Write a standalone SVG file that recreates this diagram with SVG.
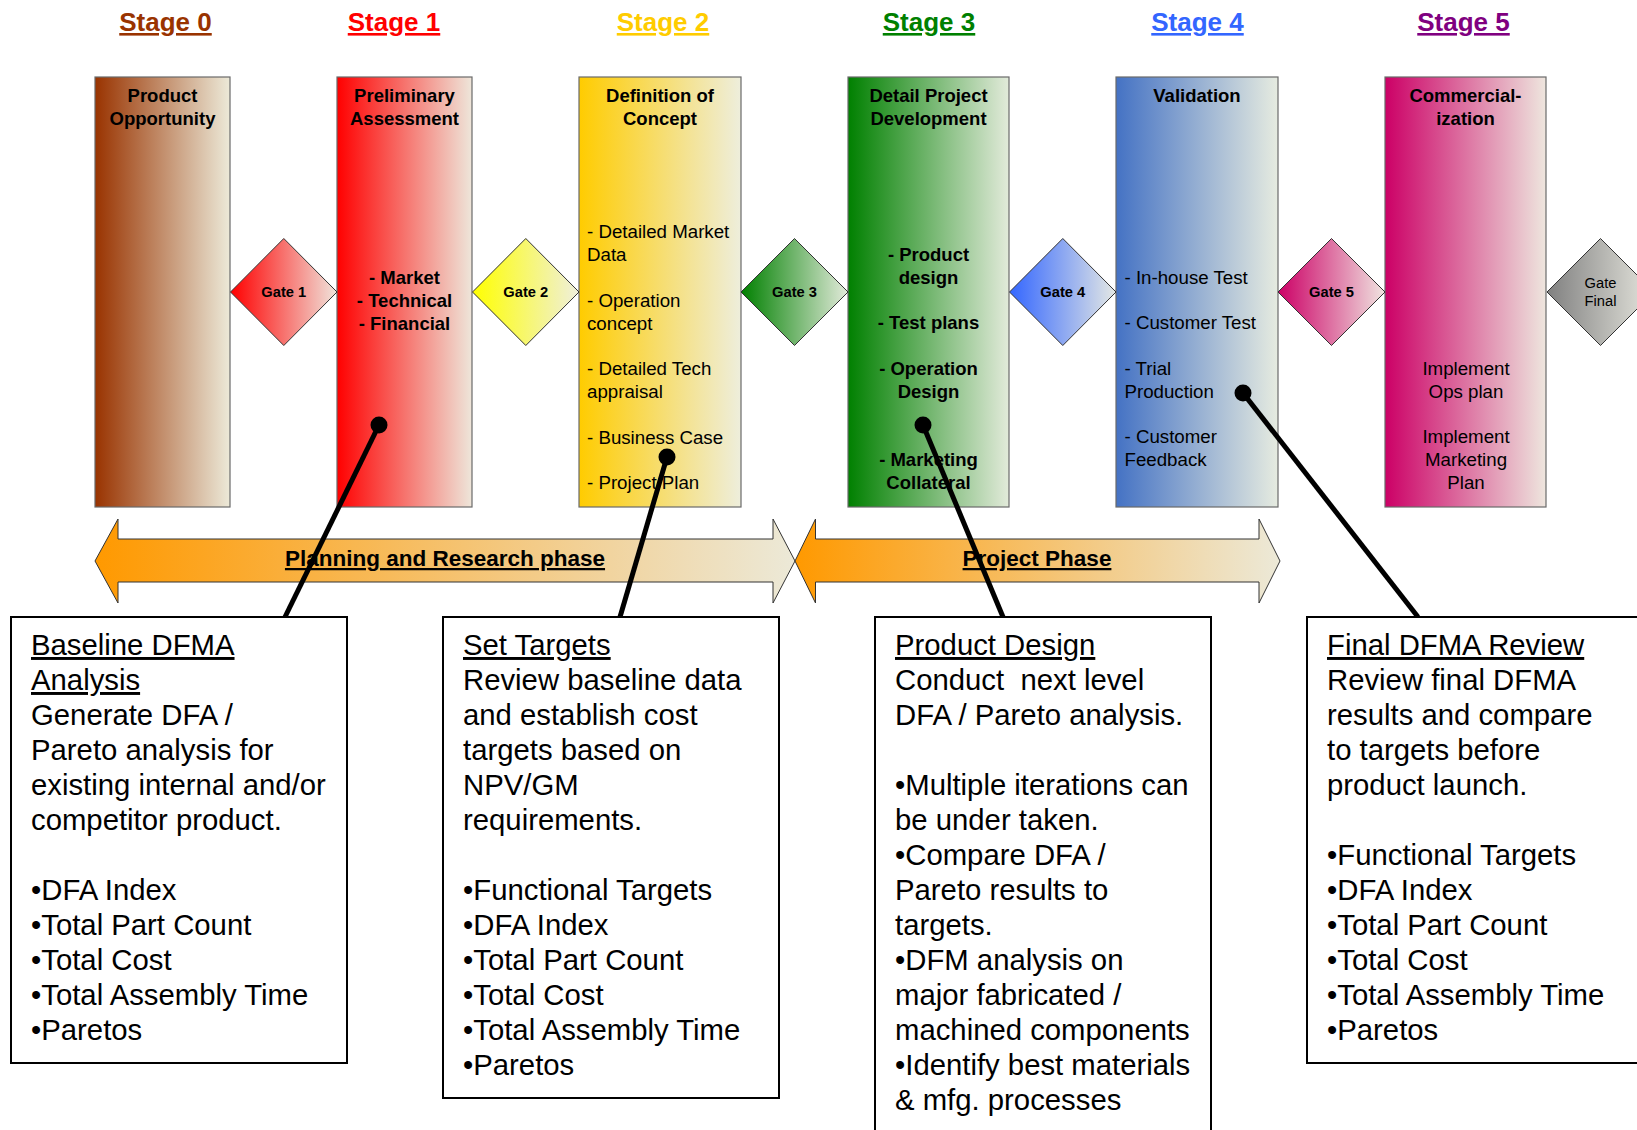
<svg xmlns="http://www.w3.org/2000/svg" width="1637" height="1130" viewBox="0 0 1637 1130">
<defs>
<linearGradient id="g0" x1="0" y1="0" x2="1" y2="0"><stop offset="0" stop-color="#993300"/><stop offset="1" stop-color="#ECE9D8"/></linearGradient>
<linearGradient id="g1" x1="0" y1="0" x2="1" y2="0"><stop offset="0" stop-color="#FF0000"/><stop offset="1" stop-color="#EEE6DA"/></linearGradient>
<linearGradient id="g2" x1="0" y1="0" x2="1" y2="0"><stop offset="0" stop-color="#FFCC00"/><stop offset="1" stop-color="#EEEEDC"/></linearGradient>
<linearGradient id="g3" x1="0" y1="0" x2="1" y2="0"><stop offset="0" stop-color="#008000"/><stop offset="1" stop-color="#E2EADA"/></linearGradient>
<linearGradient id="g4" x1="0" y1="0" x2="1" y2="0"><stop offset="0" stop-color="#4472C4"/><stop offset="1" stop-color="#E6EBE0"/></linearGradient>
<linearGradient id="g5" x1="0" y1="0" x2="1" y2="0"><stop offset="0" stop-color="#CC0066"/><stop offset="1" stop-color="#EEE6DE"/></linearGradient>
<linearGradient id="gg1" x1="0" y1="0" x2="1" y2="0"><stop offset="0" stop-color="#FF0000"/><stop offset="1" stop-color="#F0E4DC"/></linearGradient>
<linearGradient id="gg2" x1="0" y1="0" x2="1" y2="0"><stop offset="0" stop-color="#FFFF00"/><stop offset="1" stop-color="#EFEFDC"/></linearGradient>
<linearGradient id="gg3" x1="0" y1="0" x2="1" y2="0"><stop offset="0" stop-color="#008000"/><stop offset="1" stop-color="#E2EADA"/></linearGradient>
<linearGradient id="gg4" x1="0" y1="0" x2="1" y2="0"><stop offset="0" stop-color="#3366FF"/><stop offset="1" stop-color="#E4E8E4"/></linearGradient>
<linearGradient id="gg5" x1="0" y1="0" x2="1" y2="0"><stop offset="0" stop-color="#CC0066"/><stop offset="1" stop-color="#F0E4E0"/></linearGradient>
<linearGradient id="ggf" x1="0" y1="0" x2="1" y2="0"><stop offset="0" stop-color="#808080"/><stop offset="1" stop-color="#E6E6DE"/></linearGradient>
<linearGradient id="gp" x1="0" y1="0" x2="1" y2="0"><stop offset="0" stop-color="#FF9900"/><stop offset="1" stop-color="#ECE9D8"/></linearGradient>
<style>
text{font-family:"Liberation Sans",Arial,sans-serif;fill:#000}
.st{font-size:26px;font-weight:bold;text-anchor:middle;text-decoration:underline}
.bx{stroke:#6a6a6a;stroke-width:1.2}
.gt{stroke:#333;stroke-width:1}
.tt{font-size:18.5px;font-weight:bold;text-anchor:middle}
.bb{font-size:18.5px;font-weight:bold;text-anchor:middle}
.br{font-size:18.7px}
.bc{font-size:18.7px;text-anchor:middle}
.gl{font-size:14.7px;font-weight:bold;text-anchor:middle}
.gf{font-size:14.7px;text-anchor:middle}
.ph{stroke:#333;stroke-width:1}
.pl{font-size:22.5px;font-weight:bold;text-anchor:middle;text-decoration:underline}
.cn{stroke:#000;stroke-width:5;fill:none}
.dot{fill:#000}
.nb{fill:#fff;stroke:#000;stroke-width:2}
.nt{font-size:29.3px}
.u{text-decoration:underline}
</style>
</defs>

<g id="stage-titles">
<text class="st" x="165.5" y="31" style="fill:#993300">Stage 0</text>
<text class="st" x="394" y="31" style="fill:#FF0000">Stage 1</text>
<text class="st" x="663" y="31" style="fill:#FFCC00">Stage 2</text>
<text class="st" x="929" y="31" style="fill:#008000">Stage 3</text>
<text class="st" x="1197.5" y="31" style="fill:#3366FF">Stage 4</text>
<text class="st" x="1463.5" y="31" style="fill:#800080">Stage 5</text>
</g>

<g id="stage0">
<rect class="bx" x="95" y="77" width="135" height="430" fill="url(#g0)"/>
<text class="tt" x="162.5" y="102">Product</text>
<text class="tt" x="162.5" y="124.8">Opportunity</text>
</g>

<g id="stage1">
<rect class="bx" x="337" y="77" width="135" height="430" fill="url(#g1)"/>
<text class="tt" x="404.5" y="102">Preliminary</text>
<text class="tt" x="404.5" y="124.8">Assessment</text>
<text class="bb" x="404.5" y="283.9">- Market</text>
<text class="bb" x="404.5" y="306.7">- Technical</text>
<text class="bb" x="404.5" y="329.5">- Financial</text>
</g>

<g id="stage2">
<rect class="bx" x="579" y="77" width="162" height="430" fill="url(#g2)"/>
<text class="tt" x="660" y="102">Definition of</text>
<text class="tt" x="660" y="124.8">Concept</text>
<text class="br" x="587" y="238.3">- Detailed Market</text>
<text class="br" x="587" y="261.1">Data</text>
<text class="br" x="587" y="306.7">- Operation</text>
<text class="br" x="587" y="329.5">concept</text>
<text class="br" x="587" y="375.1">- Detailed Tech</text>
<text class="br" x="587" y="397.9">appraisal</text>
<text class="br" x="587" y="443.5">- Business Case</text>
<text class="br" x="587" y="489.1">- Project Plan</text>
</g>

<g id="stage3">
<rect class="bx" x="848" y="77" width="161" height="430" fill="url(#g3)"/>
<text class="tt" x="928.5" y="102">Detail Project</text>
<text class="tt" x="928.5" y="124.8">Development</text>
<text class="bb" x="928.5" y="260.7">- Product</text>
<text class="bb" x="928.5" y="283.5">design</text>
<text class="bb" x="928.5" y="329.1">- Test plans</text>
<text class="bb" x="928.5" y="374.7">- Operation</text>
<text class="bb" x="928.5" y="397.5">Design</text>
<text class="bb" x="928.5" y="465.9">- Marketing</text>
<text class="bb" x="928.5" y="488.7">Collateral</text>
</g>

<g id="stage4">
<rect class="bx" x="1116" y="77" width="162" height="430" fill="url(#g4)"/>
<text class="tt" x="1197" y="102">Validation</text>
<text class="br" x="1124.5" y="283.5">- In-house Test</text>
<text class="br" x="1124.5" y="329.1">- Customer Test</text>
<text class="br" x="1124.5" y="374.7">- Trial</text>
<text class="br" x="1124.5" y="397.5">Production</text>
<text class="br" x="1124.5" y="443.1">- Customer</text>
<text class="br" x="1124.5" y="465.9">Feedback</text>
</g>

<g id="stage5">
<rect class="bx" x="1385" y="77" width="161" height="430" fill="url(#g5)"/>
<text class="tt" x="1465.5" y="102">Commercial-</text>
<text class="tt" x="1465.5" y="124.8">ization</text>
<text class="bc" x="1466" y="374.7">Implement</text>
<text class="bc" x="1466" y="397.5">Ops plan</text>
<text class="bc" x="1466" y="443.1">Implement</text>
<text class="bc" x="1466" y="465.9">Marketing</text>
<text class="bc" x="1466" y="488.7">Plan</text>
</g>

<g id="gate1">
<polygon class="gt" points="230.5,292 283.8,238.5 337,292 283.8,345.5" fill="url(#gg1)"/>
<text class="gl" x="283.8" y="297">Gate 1</text>
</g>
<g id="gate2">
<polygon class="gt" points="472.5,292 525.8,238.5 579,292 525.8,345.5" fill="url(#gg2)"/>
<text class="gl" x="525.8" y="297">Gate 2</text>
</g>
<g id="gate3">
<polygon class="gt" points="741,292 794.5,238.5 848,292 794.5,345.5" fill="url(#gg3)"/>
<text class="gl" x="794.5" y="297">Gate 3</text>
</g>
<g id="gate4">
<polygon class="gt" points="1009.5,292 1062.8,238.5 1116,292 1062.8,345.5" fill="url(#gg4)"/>
<text class="gl" x="1062.8" y="297">Gate 4</text>
</g>
<g id="gate5">
<polygon class="gt" points="1278,292 1331.5,238.5 1385,292 1331.5,345.5" fill="url(#gg5)"/>
<text class="gl" x="1331.5" y="297">Gate 5</text>
</g>
<g id="gatefinal">
<polygon class="gt" points="1547,292 1600.5,238.5 1654,292 1600.5,345.5" fill="url(#ggf)"/>
<text class="gf" x="1600.5" y="287.7">Gate</text>
<text class="gf" x="1600.5" y="305.7">Final</text>
</g>

<g id="phase-planning">
<polygon class="ph" points="95,561 118,519 118,539 773,539 773,519 795,561 773,603 773,582 118,582 118,603" fill="url(#gp)"/>
<text class="pl" x="445" y="566">Planning and Research phase</text>
</g>
<g id="phase-project">
<polygon class="ph" points="795,561 815.5,519 815.5,539 1259,539 1259,519 1280,561 1259,603 1259,582 815.5,582 815.5,603" fill="url(#gp)"/>
<text class="pl" x="1037" y="566">Project Phase</text>
</g>

<g id="connectors">
<line class="cn" x1="379" y1="425" x2="285" y2="617"/>
<circle class="dot" cx="379" cy="425" r="8.5"/>
<line class="cn" x1="667" y1="457" x2="620" y2="617"/>
<circle class="dot" cx="667" cy="457" r="8.5"/>
<line class="cn" x1="923" y1="425" x2="1003" y2="617"/>
<circle class="dot" cx="923" cy="425" r="8.5"/>
<line class="cn" x1="1243" y1="393" x2="1418" y2="617"/>
<circle class="dot" cx="1243" cy="393" r="8.5"/>
</g>

<g id="note-baseline">
<rect class="nb" x="11" y="617" width="336" height="446"/>
<text class="nt" x="31" y="655"><tspan class="u">Baseline DFMA</tspan></text>
<text class="nt" x="31" y="690"><tspan class="u">Analysis</tspan></text>
<text class="nt" x="31" y="725">Generate DFA /</text>
<text class="nt" x="31" y="760">Pareto analysis for</text>
<text class="nt" x="31" y="795">existing internal and/or</text>
<text class="nt" x="31" y="830">competitor product.</text>
<text class="nt" x="31" y="900">•DFA Index</text>
<text class="nt" x="31" y="935">•Total Part Count</text>
<text class="nt" x="31" y="970">•Total Cost</text>
<text class="nt" x="31" y="1005">•Total Assembly Time</text>
<text class="nt" x="31" y="1040">•Paretos</text>
</g>

<g id="note-targets">
<rect class="nb" x="443" y="617" width="336" height="481"/>
<text class="nt" x="463" y="655"><tspan class="u">Set Targets</tspan></text>
<text class="nt" x="463" y="690">Review baseline data</text>
<text class="nt" x="463" y="725">and establish cost</text>
<text class="nt" x="463" y="760">targets based on</text>
<text class="nt" x="463" y="795">NPV/GM</text>
<text class="nt" x="463" y="830">requirements.</text>
<text class="nt" x="463" y="900">•Functional Targets</text>
<text class="nt" x="463" y="935">•DFA Index</text>
<text class="nt" x="463" y="970">•Total Part Count</text>
<text class="nt" x="463" y="1005">•Total Cost</text>
<text class="nt" x="463" y="1040">•Total Assembly Time</text>
<text class="nt" x="463" y="1075">•Paretos</text>
</g>

<g id="note-design">
<rect class="nb" x="875" y="617" width="336" height="540"/>
<text class="nt" x="895" y="655"><tspan class="u">Product Design</tspan></text>
<text class="nt" x="895" y="690">Conduct&#160; next level</text>
<text class="nt" x="895" y="725">DFA / Pareto analysis.</text>
<text class="nt" x="895" y="795">•Multiple iterations can</text>
<text class="nt" x="895" y="830">be under taken.</text>
<text class="nt" x="895" y="865">•Compare DFA /</text>
<text class="nt" x="895" y="900">Pareto results to</text>
<text class="nt" x="895" y="935">targets.</text>
<text class="nt" x="895" y="970">•DFM analysis on</text>
<text class="nt" x="895" y="1005">major fabricated /</text>
<text class="nt" x="895" y="1040">machined components</text>
<text class="nt" x="895" y="1075">•Identify best materials</text>
<text class="nt" x="895" y="1110">&amp; mfg. processes</text>
</g>

<g id="note-final">
<rect class="nb" x="1307" y="617" width="360" height="446"/>
<text class="nt" x="1327" y="655"><tspan class="u">Final DFMA Review</tspan></text>
<text class="nt" x="1327" y="690">Review final DFMA</text>
<text class="nt" x="1327" y="725">results and compare</text>
<text class="nt" x="1327" y="760">to targets before</text>
<text class="nt" x="1327" y="795">product launch.</text>
<text class="nt" x="1327" y="865">•Functional Targets</text>
<text class="nt" x="1327" y="900">•DFA Index</text>
<text class="nt" x="1327" y="935">•Total Part Count</text>
<text class="nt" x="1327" y="970">•Total Cost</text>
<text class="nt" x="1327" y="1005">•Total Assembly Time</text>
<text class="nt" x="1327" y="1040">•Paretos</text>
</g>
</svg>
